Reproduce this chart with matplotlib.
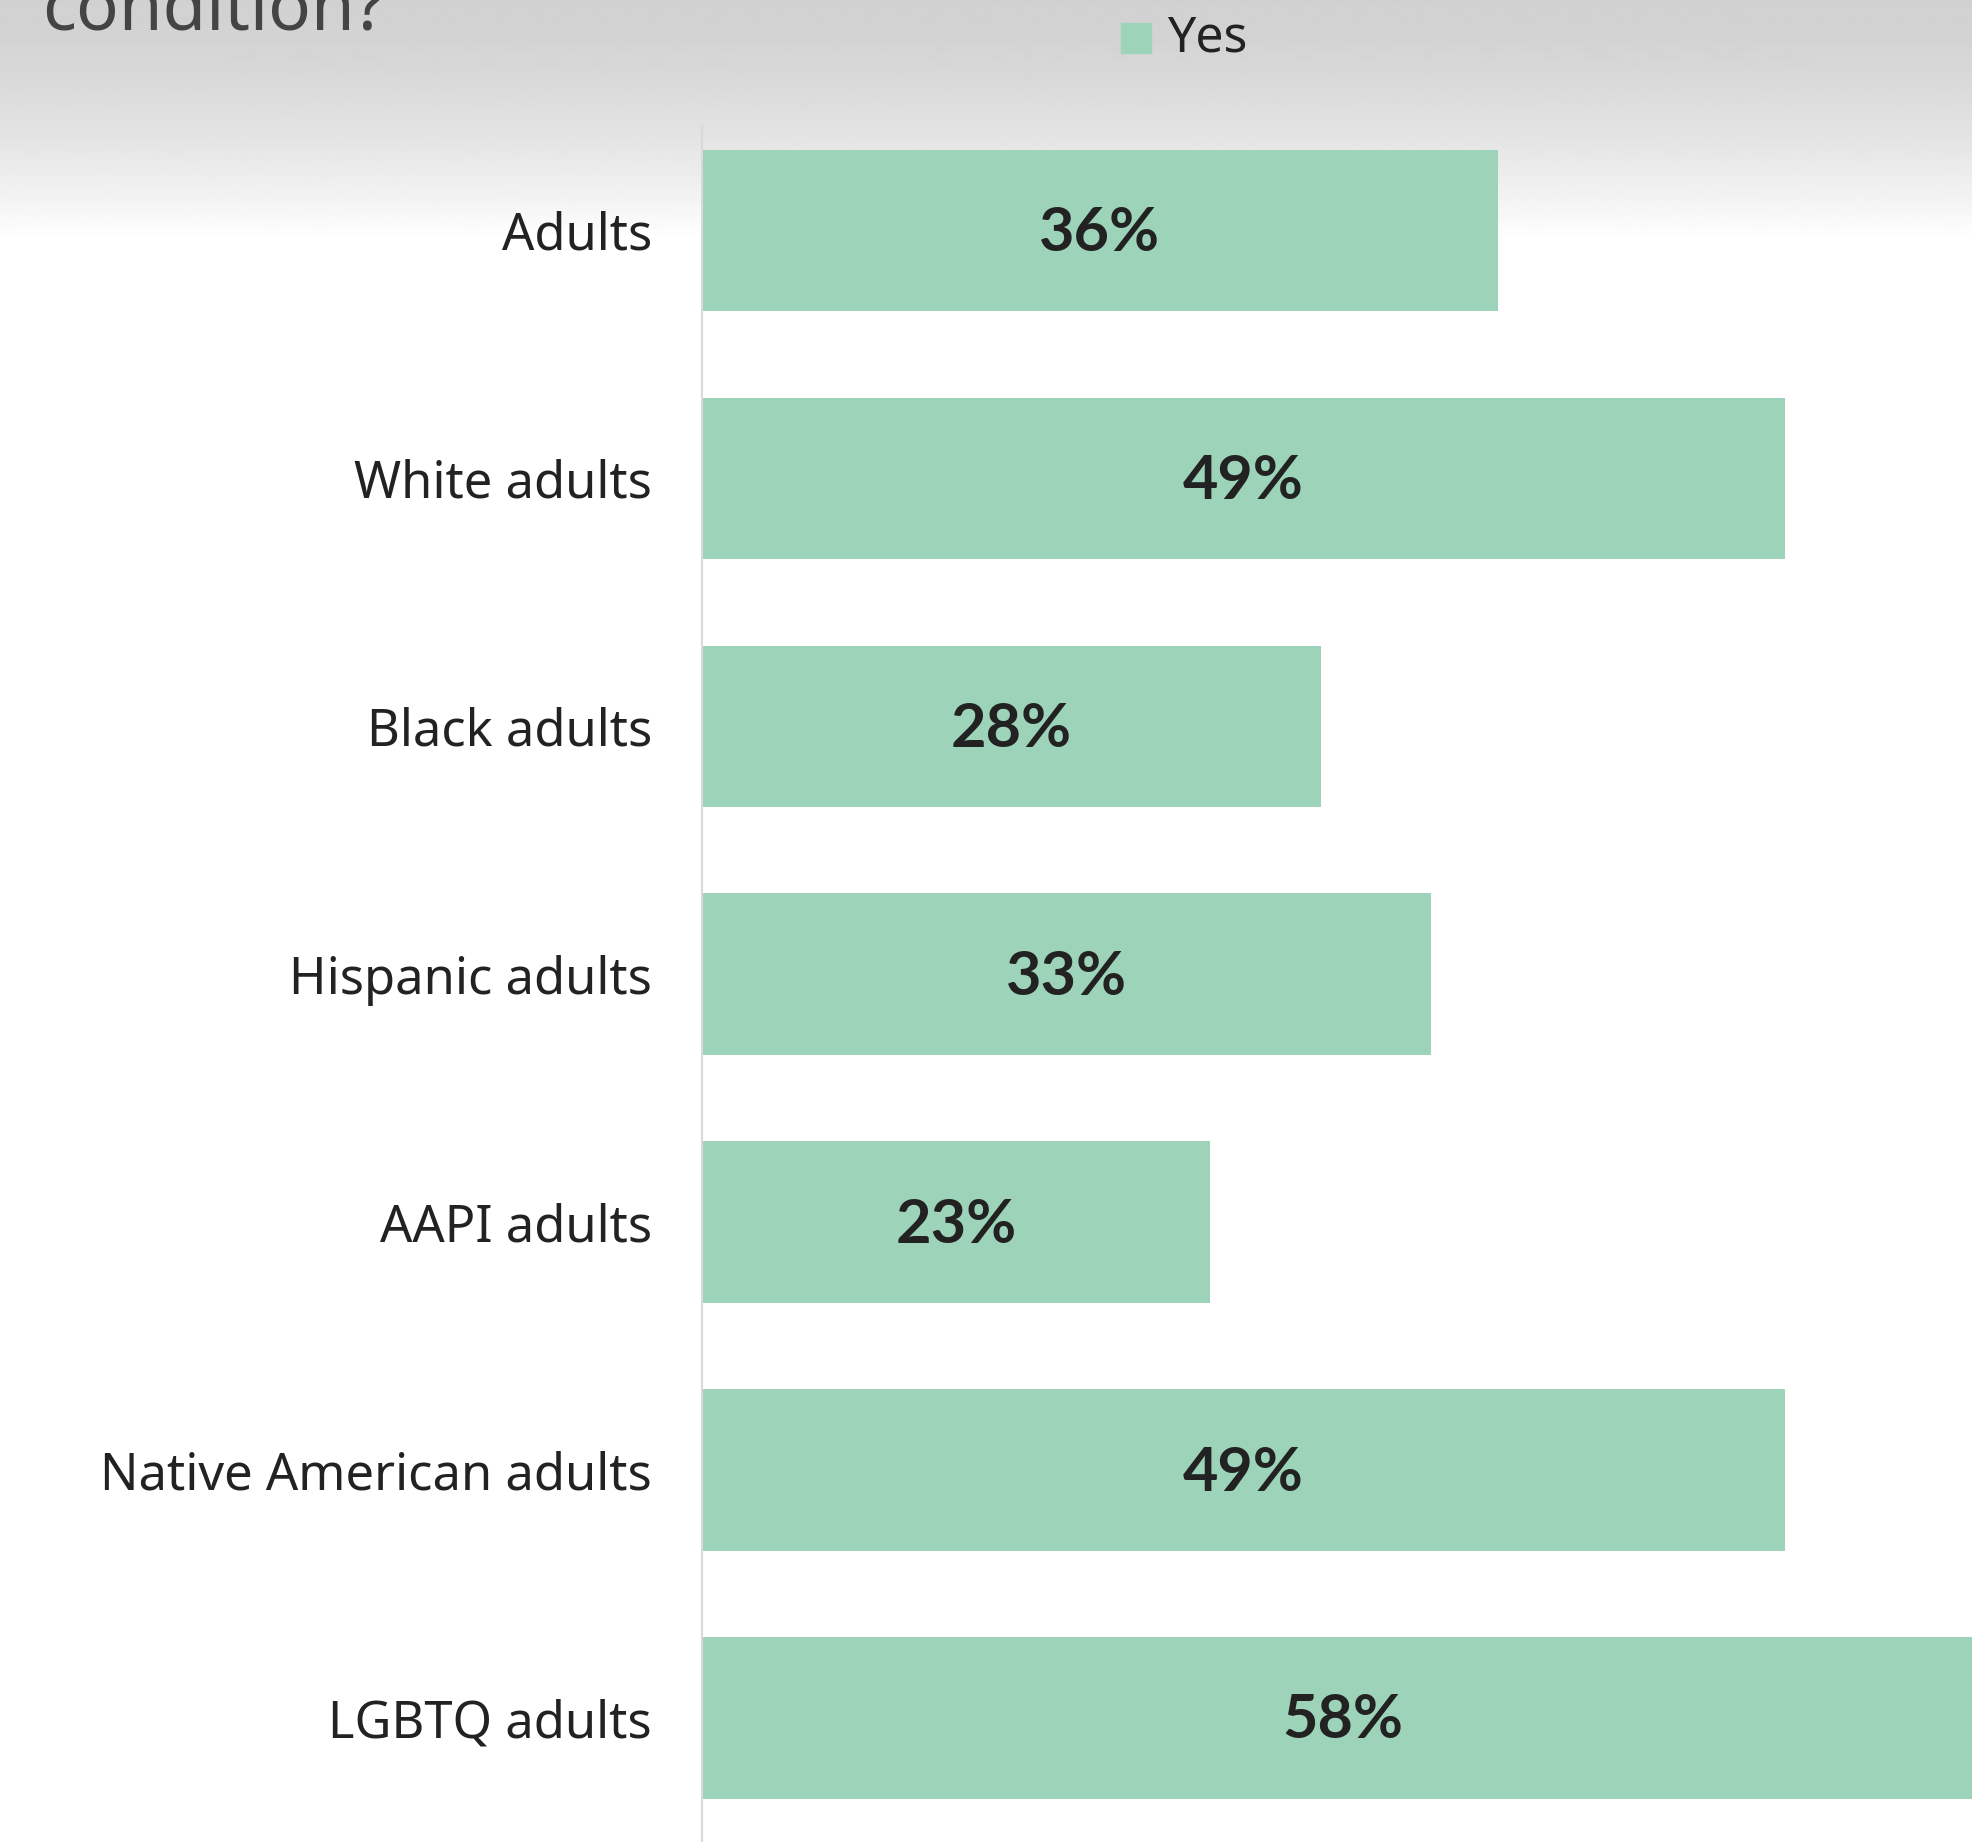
import numpy as np
import matplotlib.pyplot as plt

plt.rcParams['font.family'] = ['Noto Sans', 'DejaVu Sans']

# ----------------------
# Dados
# ----------------------

grupos = ['Adults', 'White adults', 'Black adults', 'Hispanic adults',
          'AAPI adults', 'Native American adults', 'LGBTQ adults']
sim = [36, 49, 28, 33, 23, 49, 58]

cor_barra = '#9dd3b9'
cor_texto = '#222222'

# ----------------------
# Figura
# ----------------------

fig = plt.figure(figsize=(19.72, 18.42), dpi=100)

# fundo: degradê cinza no topo
bg = fig.add_axes([0, 0, 1, 1], zorder=0)
h = 1842
grad = np.ones((h, 1))
topo = 240
grad[:topo, 0] = 0.82 + 0.18 * (np.linspace(0, 1, topo) ** 1.6)
bg.imshow(grad, cmap='gray', vmin=0, vmax=1, aspect='auto',
          extent=[0, 1, 0, 1], interpolation='bilinear')
bg.axis('off')

ax = fig.add_axes([702 / 1972, 0, 1 - 702 / 1972, 1 - 126 / 1842], zorder=1)
ax.patch.set_alpha(0)

y = np.arange(len(grupos))
barras = ax.barh(y, sim, height=0.65, color=cor_barra, zorder=2)

for i, v in enumerate(sim):
    ax.text(v / 2, i + 0.01, f'{v}%', ha='center', va='center', fontsize=44,
            fontweight='bold', family=['Lato', 'DejaVu Sans'],
            color=cor_texto, zorder=3)

ax.set_xlim(0, 57.47)
ax.set_ylim(6.5, -0.42)
ax.set_yticks(y)
ax.set_yticklabels(grupos, fontsize=36.5, color=cor_texto)
ax.tick_params(axis='y', length=0, pad=36)
ax.set_xticks([])
for lado in ['top', 'right', 'bottom']:
    ax.spines[lado].set_visible(False)
ax.spines['left'].set_color('#d9d9d9')
ax.spines['left'].set_linewidth(1.5)

# título cortado no topo
fig.text(42 / 1972, 1 - 30 / 1842, 'condition?', fontsize=51,
         color='#444444', ha='left', va='baseline', zorder=2)

# legenda
fig.patches.append(plt.Rectangle((1121 / 1972, 1 - 53 / 1842), 30 / 1972, 30 / 1842,
                                 transform=fig.transFigure, color=cor_barra,
                                 zorder=2, figure=fig))
fig.text(1167 / 1972, 1 - 38 / 1842, 'Yes', fontsize=36, color=cor_texto,
         ha='left', va='center', zorder=2)

plt.savefig('out.png', dpi=100)
